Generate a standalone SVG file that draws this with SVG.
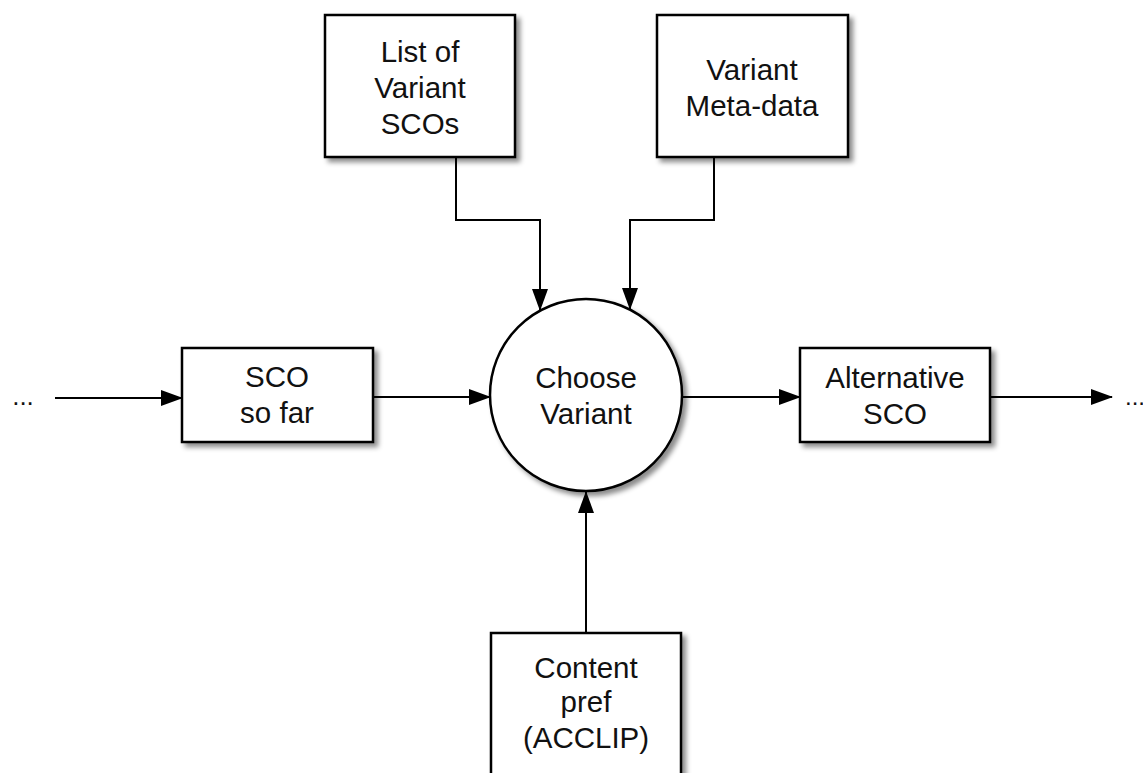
<svg xmlns="http://www.w3.org/2000/svg" width="1143" height="773" viewBox="0 0 1143 773">
<defs>
<filter id="sh" x="-10%" y="-10%" width="130%" height="130%">
<feDropShadow dx="4" dy="4" stdDeviation="2.5" flood-color="#000" flood-opacity="0.45"/>
</filter>
<marker id="ah" markerWidth="22" markerHeight="16" refX="21" refY="8" orient="auto" markerUnits="userSpaceOnUse">
<path d="M0,0 L22,8 L0,16 Z" fill="#000"/>
</marker>
<style>
.box{fill:#fff;stroke:#000;stroke-width:2.5;filter:url(#sh)}
.t{font-family:"Liberation Sans",Arial,sans-serif;font-size:29.5px;fill:#111;text-anchor:middle}
.c{fill:none;stroke:#000;stroke-width:2;marker-end:url(#ah)}
</style>
</defs>
<rect width="1143" height="773" fill="#fff"/>
<g id="connectors">
<path class="c" d="M55,398 H182"/>
<path class="c" d="M373,397 H490"/>
<path class="c" d="M682,397 H800"/>
<path class="c" d="M990,397 H1112"/>
<path class="c" d="M456,157 V220 H540 V310"/>
<path class="c" d="M714,157 V220 H630 V309"/>
<path class="c" d="M586,633 V492"/>
</g>
<g id="list-of-variant-scos">
<rect class="box" x="325" y="15" width="190" height="142"/>
<text class="t" x="420" y="62">List of</text>
<text class="t" x="420" y="98">Variant</text>
<text class="t" x="420" y="134">SCOs</text>
</g>
<g id="variant-meta-data">
<rect class="box" x="657" y="15" width="191" height="142"/>
<text class="t" x="752" y="80">Variant</text>
<text class="t" x="752" y="116">Meta-data</text>
</g>
<g id="sco-so-far">
<rect class="box" x="182" y="348" width="191" height="94"/>
<text class="t" x="277" y="387">SCO</text>
<text class="t" x="277" y="423">so far</text>
</g>
<g id="choose-variant">
<circle cx="586" cy="395" r="96" fill="#fff" stroke="#000" stroke-width="2.5" filter="url(#sh)"/>
<text class="t" x="586" y="388">Choose</text>
<text class="t" x="586" y="424">Variant</text>
</g>
<g id="alternative-sco">
<rect class="box" x="800" y="348" width="190" height="94"/>
<text class="t" x="895" y="388">Alternative</text>
<text class="t" x="895" y="424">SCO</text>
</g>
<g id="content-pref">
<rect class="box" x="491" y="633" width="190" height="160"/>
<text class="t" x="586" y="678">Content</text>
<text class="t" x="586" y="712">pref</text>
<text class="t" x="586" y="748">(ACCLIP)</text>
</g>
<g id="ellipsis">
<text class="t" x="23" y="405" style="font-size:26px">...</text>
<text class="t" x="1125" y="405" style="font-size:24px;text-anchor:start">...</text>
</g>
</svg>
